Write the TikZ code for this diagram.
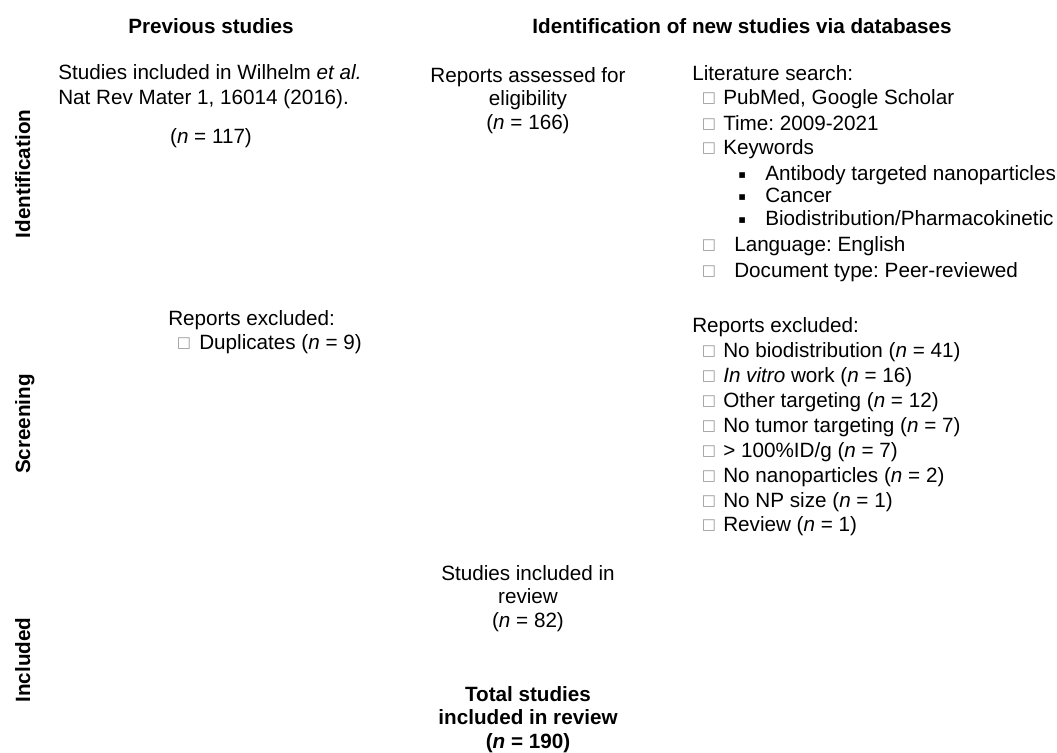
\documentclass[tikz,border=0pt]{standalone}
\usepackage{fontspec}
\setmainfont{Liberation Sans}
\newfontfamily\symfont{DejaVu Sans}
\usepackage{xcolor}
\usepackage{tikz}
\usetikzlibrary{positioning}
\frenchspacing
\definecolor{boxgray}{HTML}{9A9A9A}
\newcommand{\chk}[1]{\makebox[#1][l]{\hspace*{-1.1pt}\raisebox{1pt}{\textcolor{boxgray}{\fontsize{11.3}{11.3}\symfont □}}}}
\newcommand{\sqb}{\makebox[20.25pt][l]{\raisebox{0.8pt}{\fontsize{8.5}{8.5}\symfont ▪}}}
\tikzset{
  txt/.style={inner sep=0pt, font=\fontsize{15.5}{18.75}\selectfont},
  head/.style={txt, font=\fontsize{15.5}{17.5}\selectfont\bfseries},
  phase/.style={head, rotate=90, anchor=base},
  item/.style={txt, anchor=base west},
  block/.style={txt, align=center, anchor=base, font=\fontsize{15.5}{17.6}\selectfont}
}

\begin{document}
\begin{tikzpicture}[x=0.75pt, y=-0.75pt]
  \useasboundingbox (0,0) rectangle (1057,753);

  % column heads
  \node[head, anchor=base] (prevhead) at (211,33) {Previous studies};
  \node[head, anchor=base] (newhead) at (742,33) {Identification of new studies via databases};

  % phases
  \node[phase] (ident) at (30,174) {Identification};
  \node[phase] (screen) at (30,424) {Screening};
  \node[phase] (incl) at (30,660) {Included};

  % previous studies (base = last line)
  \node[item, align=left] (wilhelm) at (58,104)
    {Studies included in Wilhelm \textit{et al.}\\Nat Rev Mater 1, 16014 (2016).};
  \node[txt, anchor=base] (wilhelmn) at (211,143) {(\textit{n} = 117)};
  \node[item] (prevexcl) at (168,325) {Reports excluded:};
  \node[item] (dupl) at (178,349) {\chk{15.75pt}Duplicates (\textit{n} = 9)};

  % new studies
  \node[block] (assessed) at (528,129) {Reports assessed for\\eligibility\\(\textit{n} = 166)};
  \node[block] (review) at (528,627) {Studies included in\\review\\(\textit{n} = 82)};
  \node[block, font=\fontsize{15.5}{17.3}\selectfont\bfseries] (total) at (528,748)
    {Total studies\\included in review\\(\textit{n} = 190)};

  % search
  \node[item] (search) at (692,80) {Literature search:};
  \node[item] (s1) at (703,104) {\chk{15pt}PubMed, Google Scholar};
  \node[item] (s2) at (703,130) {\chk{15pt}Time: 2009-2021};
  \node[item] (s3) at (703,154) {\chk{15pt}Keywords};
  \node[item] (k1) at (738,180) {\sqb Antibody targeted nanoparticles};
  \node[item] (k2) at (738,202) {\sqb Cancer};
  \node[item] (k3) at (738,225) {\sqb Biodistribution/Pharmacokinetic};
  \node[item] (s4) at (703,251) {\chk{23.25pt}Language: English};
  \node[item] (s5) at (703,277) {\chk{23.25pt}Document type: Peer-reviewed};

  % exclusions
  \node[item] (newexcl) at (692,332) {Reports excluded:};
  \node[item] (e1) at (703,357) {\chk{15pt}No biodistribution (\textit{n} = 41)};
  \node[item] (e2) at (703,382) {\chk{15pt}\textit{In vitro} work (\textit{n} = 16)};
  \node[item] (e3) at (703,407) {\chk{15pt}Other targeting (\textit{n} = 12)};
  \node[item] (e4) at (703,432) {\chk{15pt}No tumor targeting (\textit{n} = 7)};
  \node[item] (e5) at (703,457) {\chk{15pt}> 100\%ID/g (\textit{n} = 7)};
  \node[item] (e6) at (703,482) {\chk{15pt}No nanoparticles (\textit{n} = 2)};
  \node[item] (e7) at (703,507) {\chk{15pt}No NP size (\textit{n} = 1)};
  \node[item] (e8) at (703,531) {\chk{15pt}Review (\textit{n} = 1)};
\end{tikzpicture}
\end{document}
